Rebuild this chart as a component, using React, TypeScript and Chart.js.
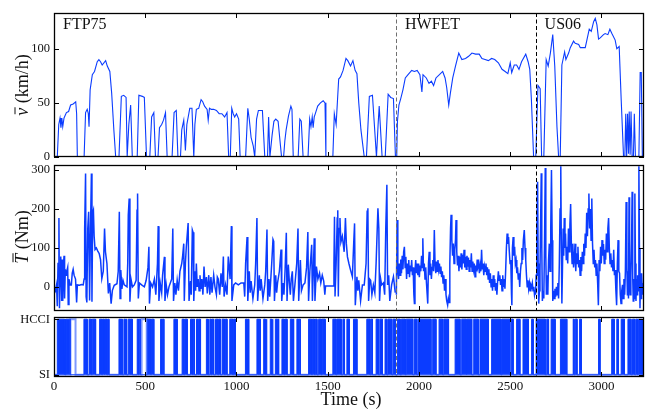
import React, { useEffect, useRef } from 'react';
import { Chart, registerables } from 'chart.js';
Chart.register(...registerables);

const X_MAX = 3233;
const xTickValues = [0, 500, 1000, 1500, 2000, 2500, 3000];
const cycleNames = ['FTP75', 'HWFET', 'US06'];
const cycleStarts = [0, 1874, 2639];
const speedTicks = [0, 50, 100];
const torqueTicks = [0, 100, 200, 300];
const modeTicks = [0, 1];
const modeLabels = ['SI', 'HCCI'];

// [time s, speed km/h]
const speedKmh: [number, number][] = [
  [0,0],[18,0],[26,30],[33,36],[38,27],[43,36],[48,28],[55,36],[68,41],[80,42],[91,48],[105,49],[119,51],[124,40],[128,0],[165,0],[173,41],[182,44],[188,40],[192,28],[198,62],[210,76],[222,79],[237,88],[246,90],[255,88],[264,85],[283,89],[292,84],[306,79],[316,59],[328,25],[338,0],[356,0],[369,56],[382,57],[395,55],[401,0],[410,30],[420,48],[429,0],[456,0],[465,57],[484,56],[495,55],[507,0],[525,0],[535,37],[547,41],[556,0],[570,0],[578,27],[590,30],[600,34],[611,41],[620,0],[647,0],[658,41],[670,43],[679,0],[693,0],[700,25],[711,34],[720,6],[728,30],[744,45],[756,45],[766,0],[772,30],[780,44],[793,45],[806,53],[815,51],[825,47],[839,44],[845,34],[852,45],[862,44],[875,44],[890,43],[905,40],[920,40],[935,37],[948,41],[957,0],[966,0],[974,45],[982,40],[990,37],[1000,40],[1012,35],[1020,0],[1050,0],[1062,45],[1070,35],[1080,18],[1092,10],[1100,0],[1110,35],[1120,43],[1130,43],[1142,43],[1155,0],[1170,0],[1176,37],[1183,0],[1195,20],[1205,33],[1215,35],[1228,33],[1247,0],[1258,0],[1265,15],[1272,25],[1285,38],[1298,47],[1304,44],[1311,0],[1338,0],[1347,35],[1355,33],[1365,0],[1392,0],[1401,35],[1408,28],[1415,37],[1420,27],[1426,37],[1432,40],[1445,47],[1460,50],[1475,52],[1485,50],[1490,0],[1528,0],[1536,40],[1546,30],[1560,72],[1570,74],[1584,80],[1600,91],[1610,89],[1625,84],[1638,89],[1650,80],[1660,77],[1670,50],[1682,25],[1700,0],[1712,0],[1728,56],[1745,57],[1767,0],[1776,30],[1782,47],[1798,0],[1815,0],[1831,58],[1845,55],[1860,54],[1871,0],
  [1878,0],[1882,33],[1890,48],[1900,54],[1912,62],[1925,73],[1940,76],[1960,80],[1975,79],[1990,80],[2005,76],[2016,60],[2022,76],[2040,73],[2055,68],[2068,70],[2080,66],[2093,73],[2112,76],[2130,79],[2143,73],[2152,64],[2163,48],[2172,59],[2185,73],[2200,84],[2218,96],[2235,90],[2255,91],[2272,93],[2290,96],[2310,95],[2330,95],[2345,91],[2362,90],[2380,89],[2398,91],[2415,90],[2435,87],[2455,81],[2472,79],[2487,77],[2500,87],[2508,78],[2522,85],[2535,85],[2548,81],[2562,88],[2585,95],[2598,88],[2607,81],[2616,53],[2628,0],
  [2640,0],[2652,66],[2664,63],[2672,0],[2684,0],[2697,90],[2708,84],[2720,96],[2733,113],[2744,84],[2756,28],[2765,0],[2774,0],[2783,85],[2798,97],[2805,90],[2820,96],[2829,101],[2847,107],[2856,105],[2875,104],[2884,101],[2911,101],[2920,108],[2933,118],[2944,116],[2957,125],[2966,128],[2975,122],[2984,109],[2993,110],[3011,113],[3020,114],[3035,113],[3046,118],[3057,114],[3075,108],[3084,100],[3097,102],[3108,53],[3121,0],[3128,0],[3133,40],[3138,0],[3143,40],[3148,3],[3152,42],[3157,2],[3162,42],[3168,0],[3175,0],[3180,40],[3186,0],[3205,0],[3212,78],[3218,78],[3224,0],[3233,0]
];

// [time s, torque Nm]
const torqueFtp75: [number, number][] = [
  [0,0],[8,-10],[14,5],[18,-50],[22,60],[27,177],[30,-55],[34,40],[37,78],[40,20],[42,-36],[45,70],[48,-36],[52,55],[55,80],[58,-30],[62,45],[66,30],[70,40],[75,50],[78,-45],[82,20],[88,5],[95,5],[100,35],[105,45],[110,30],[118,20],[124,-40],[128,5],[140,4],[150,6],[160,5],[165,20],[168,148],[173,291],[176,-25],[180,-40],[185,150],[190,193],[195,-35],[200,150],[205,291],[208,-38],[212,190],[216,197],[220,130],[225,96],[232,100],[240,92],[248,85],[255,70],[262,21],[270,40],[277,150],[282,90],[290,60],[298,-17],[305,10],[313,-43],[320,-9],[330,4],[345,8],[352,40],[358,193],[362,-30],[366,43],[372,-5],[378,17],[385,5],[400,0],[404,60],[407,184],[412,227],[416,-38],[422,20],[430,0],[440,5],[450,17],[455,197],[458,240],[462,-30],[468,10],[480,5],[495,0],[505,17],[515,50],[520,103],[523,-43],[530,10],[540,0],[550,20],[558,-20],[567,60],[571,156],[575,-36],[582,10],[590,-15],[595,30],[605,77],[608,-36],[615,5],[622,-20],[630,0],[645,20],[651,150],[655,-36],[662,10],[668,-20],[675,17],[682,-10],[690,40],[700,60],[705,80],[711,111],[714,-36],[720,60],[725,103],[735,164],[740,-36],[748,15],[752,-20],[758,146],[762,140],[766,-36],[772,40],[776,-10],[780,60],[785,0],[790,20],[795,-10],[800,30],[805,-5],[810,20],[816,-20],[822,52],[828,0],[835,25],[840,-17],[848,30],[854,-20],[860,25],[866,-15],[875,30],[882,0],[890,-20],[895,25],[900,20],[908,-20],[915,35],[922,0],[928,78],[932,-25],[940,5],[948,-20],[955,78],[965,20],[972,156],[975,-36],[985,5],[995,10],[1010,5],[1025,10],[1040,10],[1045,-25],[1050,60],[1058,128],[1062,-36],[1070,40],[1075,-15],[1080,15],[1090,-30],[1100,5],[1105,60],[1112,177],[1116,-36],[1125,30],[1130,-10],[1135,20],[1145,-30],[1155,5],[1160,40],[1167,147],[1171,-36],[1178,20],[1182,-25],[1186,5],[1193,60],[1200,122],[1204,117],[1208,-36],[1215,30],[1220,-15],[1225,10],[1235,40],[1244,96],[1248,-36],[1255,10],[1260,-20],[1266,40],[1273,139],[1277,-36],[1284,57],[1290,10],[1295,-20],[1300,20],[1306,40],[1312,-36],[1320,5],[1330,60],[1337,150],[1341,-36],[1350,69],[1356,-10],[1365,5],[1375,10],[1384,50],[1391,141],[1395,-36],[1402,40],[1412,108],[1416,-36],[1422,60],[1426,125],[1430,-36],[1438,52],[1446,20],[1455,35],[1462,10],[1470,30],[1478,15],[1484,-20],[1488,2],[1530,2],[1534,60],[1537,180],[1540,-25],[1546,60],[1552,177],[1555,197],[1558,-25],[1562,150],[1567,177],[1572,115],[1580,130],[1590,90],[1597,177],[1602,111],[1608,77],[1616,60],[1625,43],[1635,26],[1643,120],[1647,163],[1651,-47],[1660,26],[1665,-10],[1670,17],[1680,-36],[1690,5],[1700,5],[1710,60],[1716,194],[1720,202],[1724,-36],[1730,20],[1735,17],[1742,-20],[1750,5],[1758,-15],[1765,60],[1775,202],[1780,150],[1784,-36],[1790,20],[1795,5],[1805,10],[1812,-20],[1818,150],[1824,262],[1828,5],[1834,30],[1840,-36],[1850,5],[1860,26],[1870,-15]
];
const torqueHwfet: [number, number][] = [
  [1876,-20],[1880,172],[1884,40],[1888,20],[1892,60],[1896,30],[1900,70],[1904,35],[1908,80],[1912,45],[1916,90],[1920,103],[1924,50],[1928,77],[1932,20],[1936,60],[1940,35],[1944,69],[1948,25],[1952,55],[1956,40],[1960,69],[1964,30],[1968,50],[1972,-20],[1975,-43],[1978,40],[1982,69],[1986,35],[1990,60],[1994,30],[1998,60],[2002,25],[2006,55],[2010,40],[2014,80],[2018,50],[2021,125],[2025,40],[2029,60],[2033,20],[2037,50],[2041,10],[2045,-20],[2048,-43],[2052,60],[2056,90],[2060,30],[2064,60],[2068,20],[2072,50],[2076,69],[2080,40],[2084,146],[2088,60],[2092,35],[2096,65],[2100,40],[2104,69],[2108,45],[2112,60],[2116,35],[2120,52],[2124,25],[2128,40],[2132,10],[2136,30],[2140,-10],[2144,20],[2148,-20],[2152,-36],[2157,-47],[2161,-30],[2165,-40],[2169,60],[2173,150],[2176,185],[2180,120],[2184,80],[2188,111],[2192,60],[2196,95],[2200,120],[2203,172],[2207,90],[2211,55],[2215,80],[2219,40],[2223,77],[2227,50],[2231,86],[2235,45],[2239,82],[2243,60],[2247,95],[2251,50],[2255,77],[2259,45],[2263,80],[2267,52],[2271,75],[2275,40],[2279,69],[2283,50],[2287,86],[2291,40],[2295,65],[2299,45],[2303,60],[2307,26],[2311,55],[2315,40],[2319,70],[2323,52],[2327,60],[2331,35],[2335,55],[2339,40],[2343,95],[2347,45],[2351,60],[2355,30],[2359,52],[2363,40],[2367,60],[2371,30],[2375,50],[2379,20],[2383,45],[2387,10],[2391,35],[2395,0],[2399,20],[2403,-10],[2407,30],[2411,0],[2415,20],[2419,-10],[2423,10],[2427,-20],[2431,15],[2435,40],[2439,17],[2443,30],[2447,5],[2451,20],[2455,-10],[2459,30],[2463,0],[2467,20],[2471,-5],[2475,43],[2479,100],[2483,137],[2487,110],[2491,128],[2495,90],[2499,60],[2503,69],[2507,-20],[2509,-47],[2512,100],[2516,128],[2520,80],[2524,103],[2528,60],[2532,69],[2536,35],[2540,50],[2544,20],[2548,35],[2552,0],[2556,40],[2560,60],[2564,100],[2568,69],[2572,120],[2577,146],[2581,100],[2585,69],[2589,30],[2593,0],[2597,17],[2601,-5],[2605,9],[2609,-10],[2613,5],[2617,0],[2621,10],[2625,-10],[2629,0],[2633,-20],[2637,-8]
];
const torqueUs06: [number, number][] = [
  [2639,-20],[2642,30],[2646,150],[2650,270],[2653,60],[2656,-43],[2660,-10],[2663,40],[2666,150],[2670,292],[2673,100],[2676,-36],[2680,-10],[2684,-30],[2688,120],[2692,305],[2695,80],[2698,-20],[2702,30],[2706,-20],[2710,69],[2714,111],[2718,40],[2722,150],[2726,300],[2730,120],[2733,-36],[2737,-10],[2741,-30],[2745,-5],[2749,-25],[2753,0],[2757,-20],[2761,10],[2765,-30],[2769,60],[2773,200],[2777,310],[2780,100],[2783,-43],[2786,40],[2790,150],[2793,80],[2796,177],[2800,100],[2803,137],[2807,70],[2811,103],[2815,60],[2819,150],[2823,90],[2827,160],[2831,213],[2835,111],[2839,60],[2843,111],[2847,50],[2851,69],[2855,111],[2859,40],[2863,86],[2867,60],[2871,103],[2875,50],[2879,69],[2883,30],[2887,77],[2891,40],[2895,90],[2899,60],[2903,111],[2907,80],[2911,137],[2915,100],[2919,190],[2923,130],[2927,200],[2931,240],[2935,150],[2939,200],[2943,120],[2947,227],[2951,111],[2955,60],[2959,95],[2963,50],[2967,69],[2971,30],[2975,60],[2979,10],[2983,-47],[2987,69],[2991,40],[2995,103],[2999,60],[3003,120],[3007,80],[3011,110],[3015,60],[3019,95],[3023,70],[3027,137],[3031,90],[3035,150],[3039,177],[3043,100],[3047,60],[3051,86],[3055,50],[3059,69],[3063,40],[3067,95],[3071,30],[3075,43],[3079,-10],[3083,-47],[3087,60],[3091,120],[3095,40],[3099,35],[3103,-20],[3107,-43],[3111,-10],[3115,5],[3119,-30],[3123,20],[3127,-20],[3131,40],[3135,218],[3139,50],[3142,-20],[3145,40],[3148,-30],[3151,230],[3154,20],[3157,-20],[3161,30],[3165,120],[3168,244],[3171,30],[3174,-36],[3177,20],[3180,-30],[3183,240],[3186,60],[3189,-36],[3192,20],[3195,-20],[3198,30],[3201,-10],[3205,310],[3208,100],[3211,-55],[3214,35],[3217,-30],[3220,35],[3224,-20],[3228,10],[3231,-20],[3233,10]
];

// HCCI intervals with rapid switching [start s, end s]
const hcciBlocks: [number, number][] = [
  [18,55],[58,62],[66,90],[164,182],[192,205],[210,228],[250,262],[266,274],[278,290],[294,301],
  [356,366],[369,374],[383,390],[393,398],[407,418],[421,429],[456,463],[467,474],[511,530],[534,547],
  [584,590],[594,602],[657,668],[671,675],[702,712],[716,730],[748,760],[763,770],[781,790],[794,803],
  [835,842],[845,848],[854,862],[866,875],[885,898],[902,912],[921,935],[939,948],[963,980],[984,994],
  [1049,1058],[1062,1067],[1112,1122],[1125,1131],[1149,1158],[1162,1167],[1185,1193],[1196,1200],[1213,1222],[1225,1231],
  [1249,1262],[1266,1277],[1295,1305],[1308,1313],[1331,1340],[1344,1350],[1395,1412],[1416,1428],[1432,1441],[1450,1465],[1469,1486],
  [1528,1545],[1550,1574],[1583,1592],[1605,1618],[1641,1660],[1714,1732],[1738,1745],[1765,1778],[1785,1800],[1814,1824],[1830,1851],[1858,1870],
  [1882,1897],[1904,1925],[1930,1966],[1975,1988],[1995,2066],[2075,2093],[2110,2130],[2136,2162],[2198,2225],[2234,2258],[2262,2289],
  [2300,2325],[2334,2380],[2398,2450],[2455,2498],[2506,2516],[2535,2553],[2570,2600],[2617,2626],
  [2642,2692],[2700,2710],[2724,2746],[2775,2810],[2845,2850],[2856,2866],[2880,2890],[2984,2992],[3056,3070],[3084,3092],
  [3108,3126],[3145,3162],[3170,3182],[3188,3198],[3202,3224]
];
// HCCI held without switching
const hcciHolds: [number, number][] = [[90,118],[480,508]];

const FONT = "'Liberation Serif', 'Times New Roman', serif";
const BLUE = '#0b3cff';

const framePlugin = {
  id: 'frame',
  afterDatasetsDraw(chart: any, _args: any, opts: any) {
    const { ctx, chartArea: a, scales } = chart;
    const x = scales.x, y = scales.y;
    ctx.save();
    cycleStarts.slice(1).forEach((t, i) => {
      const px = Math.round(x.getPixelForValue(t)) + 0.5;
      ctx.strokeStyle = i === 0 ? '#707070' : '#000';
      ctx.lineWidth = 1;
      ctx.setLineDash([4, 2.5]);
      ctx.beginPath(); ctx.moveTo(px, a.top); ctx.lineTo(px, a.bottom); ctx.stroke();
    });
    ctx.setLineDash([]);
    ctx.strokeStyle = '#000';
    ctx.lineWidth = 1;
    const L = 5;
    const seg = (x1: number, y1: number, x2: number, y2: number) => { ctx.beginPath(); ctx.moveTo(x1, y1); ctx.lineTo(x2, y2); ctx.stroke(); };
    xTickValues.forEach(v => {
      const px = Math.round(x.getPixelForValue(v)) + 0.5;
      seg(px, a.bottom, px, a.bottom - L);
      seg(px, a.top, px, a.top + L);
    });
    (opts.yTicks || []).forEach((v: number) => {
      const py = Math.round(y.getPixelForValue(v)) + 0.5;
      seg(a.left, py, a.left + L, py);
      seg(a.right, py, a.right - L, py);
    });
    ctx.lineWidth = 1.3;
    ctx.strokeRect(Math.round(a.left) + 0.5, Math.round(a.top) + 0.5, Math.round(a.right - a.left) - 1, Math.round(a.bottom - a.top) - 1);
    ctx.restore();
  },
  afterDraw(chart: any, _args: any, opts: any) {
    const { ctx, scales, chartArea: a } = chart;
    ctx.save();
    ctx.fillStyle = '#111';
    if (opts.cycleLabels) {
      ctx.font = `16px ${FONT}`;
      ctx.textBaseline = 'alphabetic';
      ctx.textAlign = 'left';
      cycleNames.forEach((n, i) => {
        ctx.fillText(n, scales.x.getPixelForValue(cycleStarts[i]) + 9, a.top + 15.5);
      });
    }
    if (opts.yTitle) {
      const { sym, rest, cx, cy } = opts.yTitle;
      ctx.translate(cx, cy);
      ctx.rotate(-Math.PI / 2);
      ctx.textBaseline = 'middle';
      ctx.textAlign = 'left';
      ctx.font = `italic 18px ${FONT}`;
      const w1 = ctx.measureText(sym).width;
      ctx.font = `18px ${FONT}`;
      const w2 = ctx.measureText(rest).width;
      const x0 = -(w1 + w2) / 2;
      ctx.font = `italic 18px ${FONT}`;
      ctx.fillText(sym, x0, 0);
      ctx.strokeStyle = '#111';
      ctx.lineWidth = 1;
      ctx.beginPath();
      ctx.moveTo(x0 + 1.5, opts.yTitle.barY);
      ctx.lineTo(x0 + w1 + 0.5, opts.yTitle.barY);
      ctx.stroke();
      ctx.font = `18px ${FONT}`;
      ctx.fillText(rest, x0 + w1, 0);
    }
    if (opts.xTitle) {
      ctx.font = `18px ${FONT}`;
      ctx.textAlign = 'center';
      ctx.textBaseline = 'middle';
      ctx.fillText(opts.xTitle, (a.left + a.right) / 2 + 2, a.bottom + 23);
    }
    ctx.restore();
  }
};

function xScale(show: boolean) {
  return {
    type: 'linear' as const,
    min: 0,
    max: X_MAX,
    display: show,
    afterFit: (s: any) => { if (show) s.height = 33; },
    afterBuildTicks: (s: any) => { s.ticks = xTickValues.map(v => ({ value: v })); },
    ticks: { autoSkip: false, maxRotation: 0, minRotation: 0, padding: 2, color: '#111', font: { family: FONT, size: 13 }, callback: (v: number) => String(v) },
    grid: { display: false, drawTicks: false },
    border: { display: false },
  };
}

function yScale(min: number, max: number, values: number[], cb?: (v: number) => string) {
  return {
    min, max,
    afterFit: (s: any) => { s.width = 54; },
    afterBuildTicks: (s: any) => { s.ticks = values.map(v => ({ value: v })); },
    ticks: { autoSkip: false, padding: 4, color: '#111', font: { family: FONT, size: 12.5 }, callback: cb || ((v: number) => String(v)) },
    grid: { display: false, drawTicks: false },
    border: { display: false },
  };
}

const pts = (arr: [number, number][]) => arr.map(([x, y]) => ({ x, y }));

function intervalPath(list: [number, number][]) {
  const p = [{ x: 0, y: 0 }];
  list.forEach(([s, e]) => { p.push({ x: s, y: 0 }, { x: s, y: 1 }, { x: e, y: 1 }, { x: e, y: 0 }); });
  p.push({ x: X_MAX, y: 0 });
  return p;
}

export default function App() {
  const r1 = useRef<HTMLCanvasElement>(null);
  const r2 = useRef<HTMLCanvasElement>(null);
  const r3 = useRef<HTMLCanvasElement>(null);

  useEffect(() => {
    Chart.defaults.font.family = FONT;
    const base = (padding: any, plugins: any, scales: any) => ({
      animation: false as const,
      responsive: false,
      events: [],
      layout: { padding },
      plugins: { legend: { display: false }, tooltip: { enabled: false }, frame: plugins },
      scales,
      elements: { point: { radius: 0 }, line: { tension: 0 } },
    });

    const c1 = new Chart(r1.current!, {
      type: 'line',
      data: { datasets: [{ data: pts(speedKmh), borderColor: BLUE, borderWidth: 1.1, pointRadius: 0, fill: false }] },
      options: base({ left: 0, right: 2, top: 13, bottom: 13 },
        { yTicks: speedTicks, cycleLabels: true, yTitle: { sym: 'v', rest: ' (km/h)', cx: 23, cy: 85, barY: -8 } },
        { x: xScale(false), y: yScale(0, 133, speedTicks) }) as any,
      plugins: [framePlugin],
    });

    const tq = (d: [number, number][]) => ({ data: pts(d), borderColor: BLUE, borderWidth: 1.5, pointRadius: 0, fill: false });
    const c2 = new Chart(r2.current!, {
      type: 'line',
      data: { datasets: [tq(torqueFtp75), tq(torqueHwfet), tq(torqueUs06)] },
      options: base({ left: 0, right: 2, top: 15, bottom: 14 },
        { yTicks: torqueTicks, yTitle: { sym: 'T', rest: ' (Nm)', cx: 23, cy: 87, barY: -10 } },
        { x: xScale(false), y: yScale(-62, 313, torqueTicks) }) as any,
      plugins: [framePlugin],
    });

    const c3 = new Chart(r3.current!, {
      type: 'line',
      data: { datasets: [
        { data: intervalPath(hcciBlocks), borderColor: BLUE, backgroundColor: BLUE, borderWidth: 1, pointRadius: 0, fill: 'origin', order: 2 },
        { data: intervalPath(hcciHolds), borderColor: 'rgba(40,85,255,0.6)', borderWidth: 2, pointRadius: 0, fill: false, order: 1 },
      ] },
      options: base({ left: 0, right: 2, top: 17, bottom: 0 },
        { yTicks: modeTicks, xTitle: 'Time (s)' },
        { x: xScale(true), y: yScale(-0.04, 1.04, modeTicks, (v: number) => (v === 0 || v === 1 ? modeLabels[v] : '')) }) as any,
      plugins: [framePlugin],
    });

    return () => { c1.destroy(); c2.destroy(); c3.destroy(); };
  }, []);

  return (
    <div style={{ position: 'absolute', left: 0, top: 0, width: 646, height: 410, background: '#fff', overflow: 'hidden' }}>
      <canvas ref={r1} width={646} height={170} style={{ position: 'absolute', left: 0, top: 0 }} />
      <canvas ref={r2} width={646} height={175} style={{ position: 'absolute', left: 0, top: 150 }} />
      <canvas ref={r3} width={646} height={110} style={{ position: 'absolute', left: 0, top: 300 }} />
    </div>
  );
}
